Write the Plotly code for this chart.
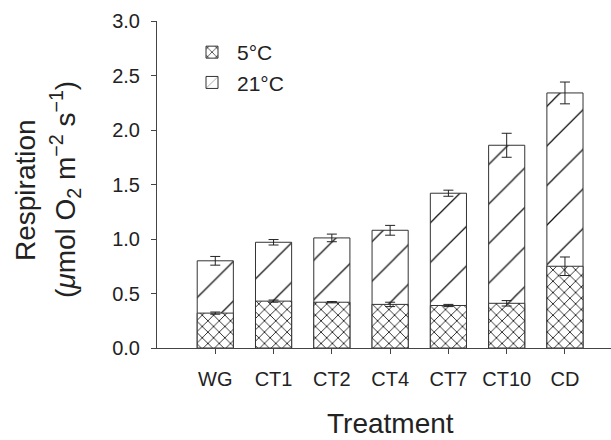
import plotly.graph_objects as go

treatments = ["WG", "CT1", "CT2", "CT4", "CT7", "CT10", "CD"]
resp_21 = [0.80, 0.97, 1.01, 1.08, 1.42, 1.86, 2.34]
err_21 = [0.04, 0.025, 0.035, 0.045, 0.028, 0.11, 0.10]
resp_5 = [0.32, 0.43, 0.42, 0.40, 0.39, 0.41, 0.75]
err_5 = [0.01, 0.01, 0.006, 0.02, 0.01, 0.025, 0.085]
y_ticks = [0.0, 0.5, 1.0, 1.5, 2.0, 2.5, 3.0]

FONT = "Liberation Sans, Arial, sans-serif"
INK = "#222222"

W, H = 611, 440
L, R, T, B = 157, 0, 21, 92
PW, PH = W - L - R, H - T - B


def px_x(px):
    return (px - L) / PW


def px_y(py):
    return (H - B - py) / PH


fig = go.Figure()
fig.add_trace(go.Bar(
    x=treatments, y=resp_21, name="21\u00b0C", width=0.62, legendrank=2,
    marker=dict(color="white", line=dict(color="#333333", width=1),
                pattern=dict(shape="/", size=28, solidity=0.045,
                             fgcolor="#111111", bgcolor="white", fillmode="replace")),
    error_y=dict(type="data", array=err_21, color=INK, thickness=1, width=5),
))
fig.add_trace(go.Bar(
    x=treatments, y=resp_5, name="5\u00b0C", width=0.62, legendrank=1,
    marker=dict(color="white", line=dict(color="#333333", width=1),
                pattern=dict(shape="x", size=8, solidity=0.2,
                             fgcolor="#111111", bgcolor="white", fillmode="replace")),
    error_y=dict(type="data", array=err_5, color=INK, thickness=1, width=5),
))

fig.update_layout(
    width=W, height=H,
    margin=dict(l=L, r=R, t=T, b=B, autoexpand=False),
    barmode="overlay",
    plot_bgcolor="white", paper_bgcolor="white",
    font=dict(family=FONT, size=20, color=INK),
    showlegend=True,
    legend=dict(x=px_x(187), y=px_y(32), xanchor="left", yanchor="top",
                bgcolor="rgba(0,0,0,0)", font=dict(size=21),
                itemwidth=40, tracegroupgap=0),
    xaxis=dict(
        range=[-1.0, 6.79], showline=True, linecolor="#444444", linewidth=1,
        ticks="outside", ticklen=5, tickcolor="#444444", showgrid=False,
        zeroline=False, tickfont=dict(size=20), ticklabelstandoff=8,
    ),
    yaxis=dict(
        range=[0, 3.0], tickvals=y_ticks, tickformat=".1f",
        showline=True, linecolor="#444444", linewidth=1,
        ticks="outside", ticklen=5, tickcolor="#444444", showgrid=False,
        zeroline=False, tickfont=dict(size=20), ticklabelstandoff=7,
    ),
    annotations=[
        dict(text="Respiration", xref="paper", yref="paper",
             x=px_x(26), y=px_y(190), xanchor="center", yanchor="middle",
             textangle=-90, showarrow=False, font=dict(size=28)),
        dict(text="(<i>\u03bc</i>mol O<sub>2</sub> m<sup>\u22122</sup> s<sup>\u22121</sup>)",
             xref="paper", yref="paper",
             x=px_x(65), y=px_y(190), xanchor="center", yanchor="middle",
             textangle=-90, showarrow=False, font=dict(size=28)),
        dict(text="Treatment", xref="paper", yref="paper",
             x=px_x(390), y=px_y(423), xanchor="center", yanchor="middle",
             showarrow=False, font=dict(size=28), borderpad=0),
    ],
)

fig.write_html("out.html",
               config={"displayModeBar": False},
               post_script="document.body.style.margin='0px';document.body.style.padding='0px';")
